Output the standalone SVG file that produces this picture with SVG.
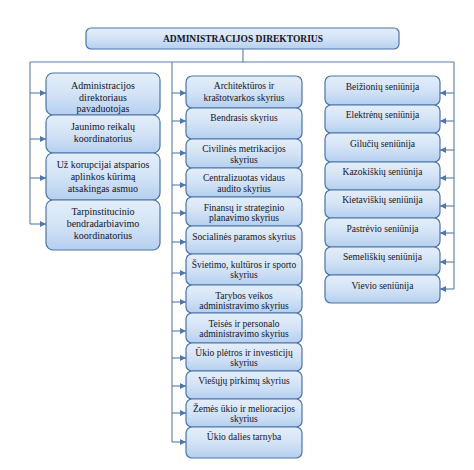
<svg xmlns="http://www.w3.org/2000/svg" width="474" height="470" viewBox="0 0 474 470" font-family="'Liberation Serif', 'Times New Roman', serif">
<defs>
<linearGradient id="g" x1="0" y1="0" x2="0" y2="1">
<stop offset="0" stop-color="#e4eefa"/>
<stop offset="0.5" stop-color="#d3e3f6"/>
<stop offset="1" stop-color="#b5cfef"/>
</linearGradient>
<marker id="ar" markerUnits="userSpaceOnUse" markerWidth="6" markerHeight="6" refX="6" refY="3" orient="auto">
<path d="M0,0 L6,3 L0,6 z" fill="#4f76a8"/>
</marker>
<style>
.b{fill:url(#g);stroke:#4a74aa;stroke-width:1.2}
text{font-family:'Liberation Serif','Times New Roman',serif}
.t{font-size:9.5px;fill:#141428;text-anchor:middle}
.tl{font-size:10px}
.h{font-weight:bold;font-size:9.5px}
.c{stroke:#5a7dab;stroke-width:1.1;fill:none}
.a{marker-end:url(#ar)}
</style>
</defs>
<rect width="474" height="470" fill="#ffffff"/>
<g id="connectors">
<path class="c" d="M243,49 V62 M30,62 H454 M30,62 V224 M172,62 V442 M454,62 V289"/>
<path class="c a" d="M30,93 H46"/>
<path class="c a" d="M30,139 H46"/>
<path class="c a" d="M30,178 H46"/>
<path class="c a" d="M30,224 H46"/>
<path class="c a" d="M172,93 H186"/>
<path class="c a" d="M172,121 H186"/>
<path class="c a" d="M172,153 H186"/>
<path class="c a" d="M172,185 H186"/>
<path class="c a" d="M172,213 H186"/>
<path class="c a" d="M172,242 H186"/>
<path class="c a" d="M172,273 H186"/>
<path class="c a" d="M172,302 H186"/>
<path class="c a" d="M172,331 H186"/>
<path class="c a" d="M172,358 H186"/>
<path class="c a" d="M172,386 H186"/>
<path class="c a" d="M172,413 H186"/>
<path class="c a" d="M172,442 H186"/>
<path class="c a" d="M454,93 H440"/>
<path class="c a" d="M454,121 H440"/>
<path class="c a" d="M454,150 H440"/>
<path class="c a" d="M454,178 H440"/>
<path class="c a" d="M454,206 H440"/>
<path class="c a" d="M454,233 H440"/>
<path class="c a" d="M454,262 H440"/>
<path class="c a" d="M454,289 H440"/>
</g>
<g id="top"><rect class="b" x="86" y="28" width="313" height="21" rx="5"/><text class="t h" x="243" y="41.5">ADMINISTRACIJOS DIREKTORIUS</text></g>

<g id="l1"><rect class="b" x="46" y="73" width="114" height="42" rx="7"/><text class="t tl" x="103" y="88.5">Administracijos</text><text class="t tl" x="103" y="100.5">direktoriaus</text><text class="t tl" x="103" y="112">pavaduotojas</text></g>
<g id="l2"><rect class="b" x="46" y="115" width="114" height="38" rx="7"/><text class="t tl" x="103" y="129.5">Jaunimo reikalų</text><text class="t tl" x="103" y="141.5">koordinatorius</text></g>
<g id="l3"><rect class="b" x="46" y="153" width="114" height="47" rx="7"/><text class="t tl" x="103" y="167.5">Už korupcijai atsparios</text><text class="t tl" x="103" y="179.5">aplinkos kūrimą</text><text class="t tl" x="103" y="191.5">atsakingas asmuo</text></g>
<g id="l4"><rect class="b" x="46" y="200" width="114" height="50" rx="7"/><text class="t tl" x="103" y="215">Tarpinstitucinio</text><text class="t tl" x="103" y="227">bendradarbiavimo</text><text class="t tl" x="103" y="238.5">koordinatorius</text></g>

<g id="m1"><rect class="b" x="186" y="76" width="116" height="32" rx="6"/><text class="t" x="244" y="89">Architektūros ir</text><text class="t" x="244" y="100.5">kraštotvarkos skyrius</text></g>
<g id="m2"><rect class="b" x="186" y="108" width="116" height="31" rx="6"/><text class="t" x="244" y="120.5">Bendrasis skyrius</text></g>
<g id="m3"><rect class="b" x="186" y="139" width="116" height="29" rx="6"/><text class="t" x="244" y="152">Civilinės metrikacijos</text><text class="t" x="244" y="162.5">skyrius</text></g>
<g id="m4"><rect class="b" x="186" y="168" width="116" height="29" rx="6"/><text class="t" x="244" y="181">Centralizuotas vidaus</text><text class="t" x="244" y="191.5">audito skyrius</text></g>
<g id="m5"><rect class="b" x="186" y="197" width="116" height="29" rx="6"/><text class="t" x="244" y="211">Finansų ir strateginio</text><text class="t" x="244" y="220.5">planavimo skyrius</text></g>
<g id="m6"><rect class="b" x="186" y="226" width="116" height="28" rx="6"/><text class="t" x="244" y="239.5">Socialinės paramos skyrius</text></g>
<g id="m7"><rect class="b" x="186" y="254" width="116" height="31" rx="6"/><text class="t" x="244" y="268">Švietimo, kultūros ir sporto</text><text class="t" x="244" y="278">skyrius</text></g>
<g id="m8"><rect class="b" x="186" y="285" width="116" height="28" rx="6"/><text class="t" x="244" y="299">Tarybos veikos</text><text class="t" x="244" y="309">administravimo skyrius</text></g>
<g id="m9"><rect class="b" x="186" y="313" width="116" height="30" rx="6"/><text class="t" x="244" y="327">Teisės ir personalo</text><text class="t" x="244" y="337">administravimo skyrius</text></g>
<g id="m10"><rect class="b" x="186" y="343" width="116" height="28" rx="6"/><text class="t" x="244" y="355.5">Ūkio plėtros ir investicijų</text><text class="t" x="244" y="365.5">skyrius</text></g>
<g id="m11"><rect class="b" x="186" y="371" width="116" height="28" rx="6"/><text class="t" x="244" y="384">Viešųjų pirkimų skyrius</text></g>
<g id="m12"><rect class="b" x="186" y="399" width="116" height="28" rx="6"/><text class="t" x="244" y="411.5">Žemės ūkio ir melioracijos</text><text class="t" x="244" y="422">skyrius</text></g>
<g id="m13"><rect class="b" x="186" y="427" width="116" height="31" rx="6"/><text class="t" x="244" y="440">Ūkio dalies tarnyba</text></g>

<g id="r1"><rect class="b" x="325" y="76" width="115" height="29" rx="6"/><text class="t" x="382.5" y="90">Beižionių seniūnija</text></g>
<g id="r2"><rect class="b" x="325" y="105" width="115" height="28" rx="6"/><text class="t" x="382.5" y="118">Elektrėnų seniūnija</text></g>
<g id="r3"><rect class="b" x="325" y="133" width="115" height="29" rx="6"/><text class="t" x="382.5" y="146.5">Gilučių seniūnija</text></g>
<g id="r4"><rect class="b" x="325" y="162" width="115" height="28" rx="6"/><text class="t" x="382.5" y="175">Kazokiškių seniūnija</text></g>
<g id="r5"><rect class="b" x="325" y="190" width="115" height="28" rx="6"/><text class="t" x="382.5" y="203">Kietaviškių seniūnija</text></g>
<g id="r6"><rect class="b" x="325" y="218" width="115" height="29" rx="6"/><text class="t" x="382.5" y="231.5">Pastrėvio seniūnija</text></g>
<g id="r7"><rect class="b" x="325" y="247" width="115" height="28" rx="6"/><text class="t" x="382.5" y="260">Semeliškių seniūnija</text></g>
<g id="r8"><rect class="b" x="325" y="275" width="115" height="28" rx="6"/><text class="t" x="382.5" y="289">Vievio seniūnija</text></g>
</svg>
